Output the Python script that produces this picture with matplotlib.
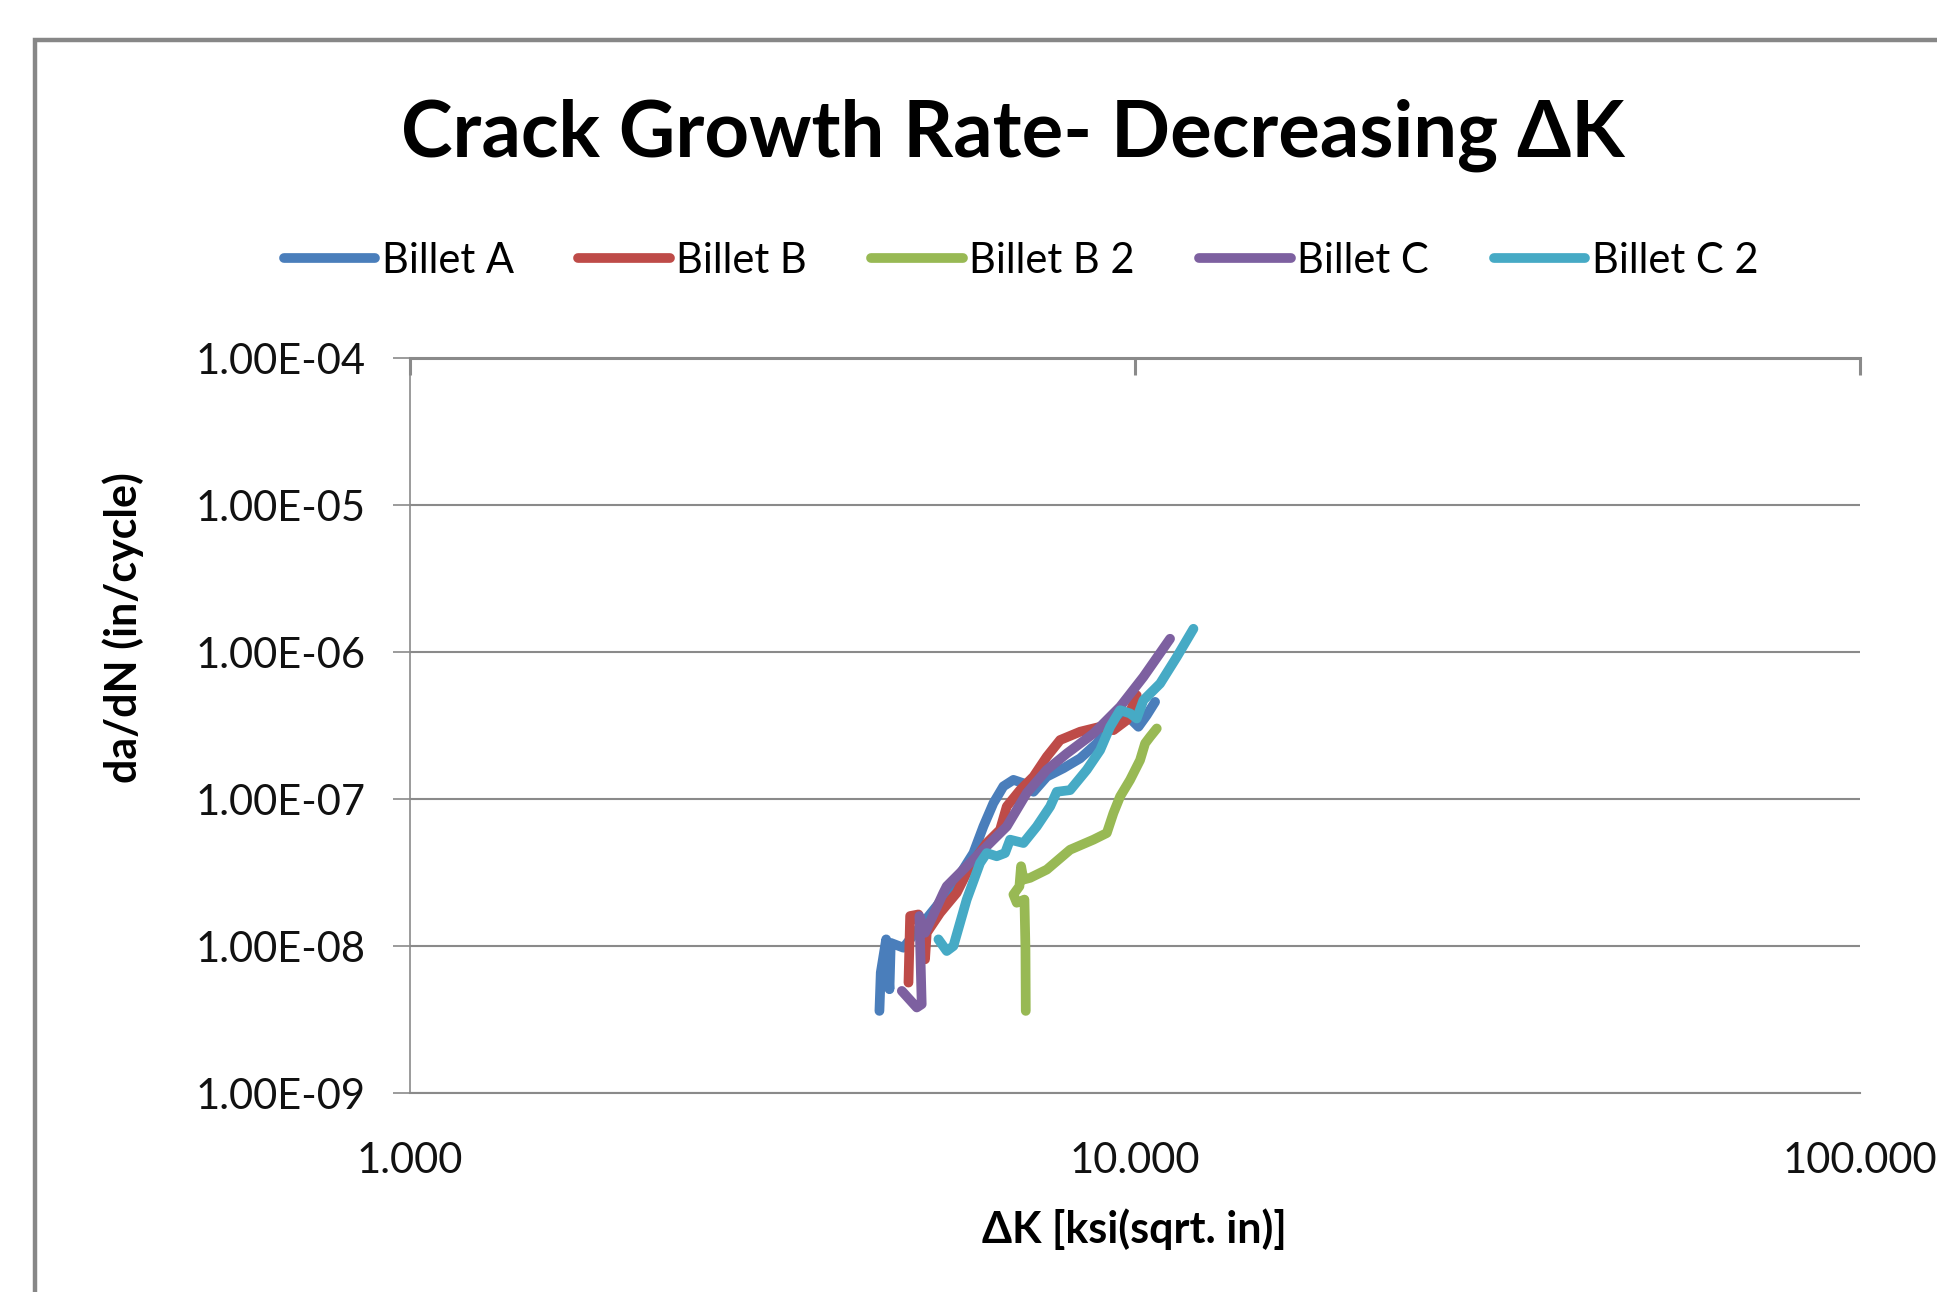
import matplotlib
matplotlib.use('Agg')
import matplotlib.pyplot as plt
from matplotlib.ticker import FixedLocator, FuncFormatter, NullLocator
from matplotlib.patches import Rectangle

plt.rcParams['font.family'] = ['Lato', 'DejaVu Sans']

# data: dK [ksi sqrt(in)], da/dN [in/cycle]
billet_a_dk = [4.440, 4.459, 4.536, 4.584, 4.603, 4.792, 4.973, 5.326, 5.675, 5.984, 6.177, 6.376,
               6.582, 6.795, 7.015, 7.242, 7.555, 7.965, 8.398, 8.855, 9.335, 9.739, 10.106, 10.378, 10.656]
billet_a_rate = [3.62e-9, 6.60e-9, 1.11e-8, 5.08e-9, 1.05e-8, 9.74e-9, 1.23e-8, 1.87e-8, 2.83e-8, 4.29e-8,
                 6.51e-8, 9.37e-8, 1.22e-7, 1.35e-7, 1.28e-7, 1.12e-7, 1.42e-7, 1.62e-7, 1.89e-7, 2.39e-7,
                 3.27e-7, 3.72e-7, 3.10e-7, 3.72e-7, 4.58e-7]

billet_b_dk = [4.869, 4.895, 5.025, 5.132, 5.160, 5.383, 5.675, 5.921, 6.243, 6.513, 6.653, 6.940,
               7.242, 7.555, 7.882, 8.398, 8.949, 9.335, 9.739, 10.053]
billet_b_rate = [5.64e-9, 1.60e-8, 1.64e-8, 8.12e-9, 1.23e-8, 1.68e-8, 2.30e-8, 3.49e-8, 5.02e-8, 6.18e-8,
                 8.90e-8, 1.15e-7, 1.42e-7, 1.94e-7, 2.52e-7, 2.87e-7, 3.10e-7, 2.94e-7, 3.44e-7, 5.08e-7]

billet_b2_dk = [7.067, 7.060, 7.037, 6.867, 6.795, 6.926, 6.962, 7.015, 7.166, 7.555, 8.136, 8.761,
                9.141, 9.335, 9.535, 9.843, 10.160, 10.323, 10.488, 10.713]
billet_b2_rate = [3.62e-9, 9.49e-9, 2.07e-8, 1.97e-8, 2.24e-8, 2.55e-8, 3.49e-8, 2.83e-8, 2.91e-8, 3.31e-8,
                  4.52e-8, 5.29e-8, 5.87e-8, 8.02e-8, 1.04e-7, 1.35e-7, 1.84e-7, 2.39e-7, 2.65e-7, 3.02e-7]

billet_c_dk = [4.767, 4.999, 5.078, 5.041, 5.132, 5.440, 5.498, 5.858, 6.376, 6.653, 7.090, 7.555,
               8.050, 8.761, 9.535, 10.268, 11.175]
billet_c_rate = [4.95e-9, 3.82e-9, 4.02e-9, 1.60e-8, 1.23e-8, 2.30e-8, 2.55e-8, 3.49e-8, 5.29e-8, 6.51e-8,
                 1.10e-7, 1.58e-7, 2.04e-7, 2.79e-7, 4.24e-7, 6.77e-7, 1.231e-6]

billet_c2_dk = [5.355, 5.498, 5.616, 5.858, 6.112, 6.243, 6.444, 6.617, 6.723, 7.015, 7.319, 7.636,
                7.798, 8.136, 8.578, 8.949, 9.237, 9.535, 9.843, 10.053, 10.268, 10.827, 11.415, 12.036]
billet_c2_rate = [1.11e-8, 9.25e-9, 1.00e-8, 2.07e-8, 3.67e-8, 4.29e-8, 4.08e-8, 4.29e-8, 5.29e-8, 5.02e-8,
                  6.51e-8, 8.90e-8, 1.12e-7, 1.15e-7, 1.58e-7, 2.15e-7, 3.10e-7, 4.02e-7, 3.82e-7, 3.53e-7,
                  4.70e-7, 6.10e-7, 9.25e-7, 1.439e-6]

series_names = ['Billet A', 'Billet B', 'Billet B 2', 'Billet C', 'Billet C 2']
series_colors = ['#4A7EBB', '#BE4B48', '#98B954', '#7D60A0', '#46AAC5']

y_ticks = [1e-9, 1e-8, 1e-7, 1e-6, 1e-5, 1e-4]
x_ticks = [1, 10, 100]

fig = plt.figure(figsize=(19.37, 12.92), dpi=100)
ax = fig.add_axes([0.2117, 0.1540, 0.7486, 0.5689])

xs = [billet_a_dk, billet_b_dk, billet_b2_dk, billet_c_dk, billet_c2_dk]
ys = [billet_a_rate, billet_b_rate, billet_b2_rate, billet_c_rate, billet_c2_rate]
for x, y, name, c in zip(xs, ys, series_names, series_colors):
    ax.plot(x, y, color=c, lw=7, label=name, solid_capstyle='round', solid_joinstyle='round')

ax.set_xscale('log')
ax.set_yscale('log')
ax.set_xlim(1, 100)
ax.set_ylim(1e-9, 1e-4)

ax.yaxis.set_major_locator(FixedLocator(y_ticks))
ax.yaxis.set_minor_locator(NullLocator())
ax.yaxis.set_major_formatter(FuncFormatter(lambda v, p: '%.2E' % v))
ax.xaxis.set_major_locator(FixedLocator(x_ticks))
ax.xaxis.set_minor_locator(NullLocator())
ax.xaxis.set_major_formatter(FuncFormatter(lambda v, p: '%.3f' % v))

grid_c = '#8a8a8a'
ax.grid(True, axis='y', color=grid_c, lw=1.5)
ax.set_axisbelow(True)
ax.spines['right'].set_visible(False)
ax.spines['top'].set_color(grid_c)
ax.spines['top'].set_linewidth(2.2)
ax.spines['bottom'].set_color(grid_c)
ax.spines['bottom'].set_linewidth(1.5)
ax.spines['left'].set_color(grid_c)
ax.spines['left'].set_linewidth(1.2)

ax.tick_params(axis='y', which='major', direction='out', length=12, width=1.2, color=grid_c,
               labelsize=30, pad=20, labelcolor='#111111')
ax.tick_params(axis='x', which='major', bottom=False, top=True, direction='in', length=12,
               width=2.2, color=grid_c, labelsize=30, pad=35, labelcolor='#111111')

fig.text(0.523, 0.8955, 'Crack Growth Rate- Decreasing \u0394K', ha='center', va='center',
         fontsize=56, fontweight='bold')
fig.text(0.5855, 0.0488, '\u0394K [ksi(sqrt. in)]', ha='center', va='center', fontsize=31,
         fontweight='bold')
fig.text(0.0638, 0.5143, 'da/dN (in/cycle)', ha='center', va='center', rotation=90,
         fontsize=31, fontweight='bold')

leg = fig.legend(loc='center', bbox_to_anchor=(0.527, 0.798), ncol=5, frameon=False,
                 fontsize=30, handlelength=2.2, handletextpad=0.15, columnspacing=1.55)
for h in leg.get_lines():
    h.set_linewidth(7)

fig.add_artist(Rectangle((0.0181, -0.2), 1.5, 1.169, transform=fig.transFigure,
                         fill=False, edgecolor='#878787', lw=3.2))

fig.savefig('out.png', dpi=100)
